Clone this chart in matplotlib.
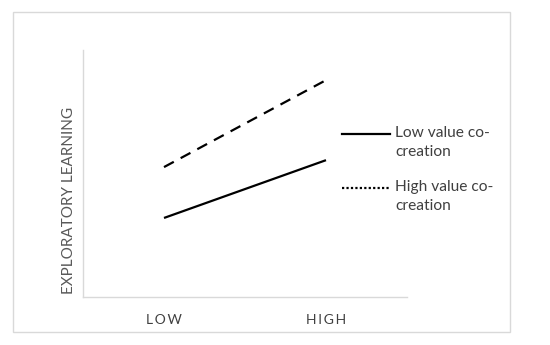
import matplotlib.pyplot as plt
from matplotlib.lines import Line2D
from matplotlib.patches import Rectangle

# data
levels = ['LOW', 'HIGH']
low_cocreation = [1.6, 2.77]
high_cocreation = [2.63, 4.39]
legend_labels = ['Low value co-\ncreation', 'High value co-\ncreation']

plt.rcParams['font.family'] = ['Lato', 'DejaVu Sans']

W, H = 550, 345
fig = plt.figure(figsize=(W / 100, H / 100), dpi=100)
ax = fig.add_axes([83 / W, 1 - 297 / H, 324 / W, 247 / H])

x = range(len(levels))
ax.plot(x, low_cocreation, color='black', lw=1.6, solid_capstyle='butt')
ax.plot(x, high_cocreation, color='black', lw=1.6, dashes=(5, 3.5))

ax.set_xlim(-0.5, 1.5)
ax.set_ylim(0, 5)
ax.set_xticks(list(x))
ax.set_xticklabels(['\u2009'.join(l) for l in levels], fontsize=10, color='#404040')
ax.set_yticks([])
ax.tick_params(axis='x', length=0, pad=12)
ax.set_ylabel('EXPLORATORY LEARNING', fontsize=11, color='#595959')
ax.yaxis.set_label_coords(-0.022, 0.39)

for s in ['top', 'right']:
    ax.spines[s].set_visible(False)
for s in ['left', 'bottom']:
    ax.spines[s].set_color('#d9d9d9')
    ax.spines[s].set_linewidth(1)

# legend drawn by hand: handle sits beside the first line of each label
styles = ['-', (0, (1, 1))]
rows = [134, 188]
for lab, ls, yr in zip(legend_labels, styles, rows):
    fig.add_artist(Line2D([342 / W, 390 / W], [1 - yr / H] * 2, transform=fig.transFigure,
                          color='black', lw=1.6, linestyle=ls))
    fig.text(395 / W, 1 - (yr - 8) / H, lab, fontsize=11.2, color='#404040',
             va='top', ha='left', linespacing=1.45)

# outer border of the chart area
fig.patches.append(Rectangle((13 / W, 1 - 332 / H), 497 / W, 320 / H, transform=fig.transFigure,
                             fill=False, edgecolor='#d9d9d9', lw=1))

fig.savefig('out.png', dpi=100)
